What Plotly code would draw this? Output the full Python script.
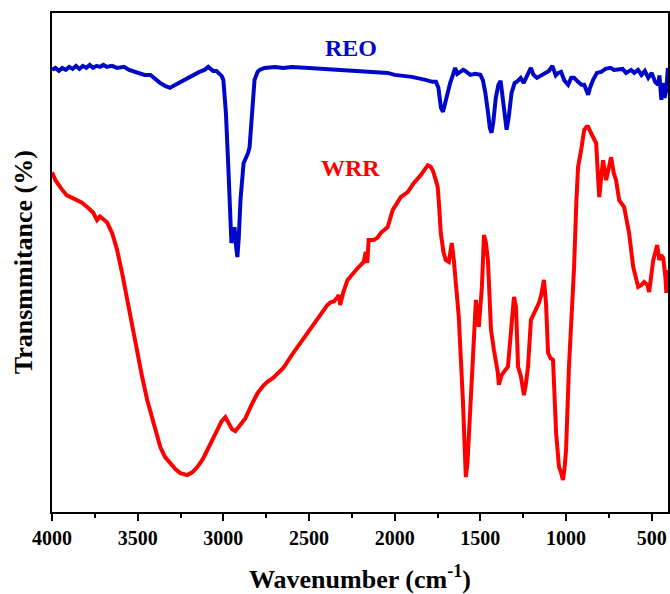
import plotly.graph_objects as go

# REO (blue) spectrum: wavenumber (cm-1) and transmittance (arb. %)
reo_wn = [4000, 3980, 3960, 3940, 3920, 3900, 3880, 3860, 3840, 3820, 3800, 3780, 3760, 3740, 3720, 3700,
          3680, 3650, 3620, 3580, 3550, 3500, 3460, 3425, 3400, 3370, 3340, 3312, 3290, 3260, 3230, 3200,
          3170, 3140, 3110, 3088, 3060, 3040, 3029, 3010, 3000, 2985, 2971, 2960, 2953, 2945, 2935, 2925,
          2918, 2910, 2900, 2882, 2865, 2855, 2847, 2835, 2825, 2818, 2800, 2788, 2760, 2700, 2650, 2600,
          2500, 2400, 2300, 2200, 2100, 2041, 2000, 1900, 1820, 1780, 1759, 1745, 1730, 1718, 1705, 1690,
          1676, 1660, 1647, 1635, 1618, 1600, 1588, 1570, 1559, 1530, 1500, 1485, 1471, 1455, 1445, 1435,
          1425, 1410, 1395, 1382, 1370, 1358, 1347, 1335, 1318, 1300, 1288, 1265, 1247, 1225, 1205, 1190,
          1170, 1150, 1120, 1100, 1080, 1060, 1045, 1029, 1010, 988, 970, 953, 930, 910, 894, 880,
          871, 860, 842, 820, 795, 770, 740, 720, 696, 670, 650, 620, 602, 580, 560, 540,
          520, 500, 480, 462, 455, 444, 435, 425, 415, 410, 406]
reo_t = [88.6, 89.0, 88.4, 89.0, 88.6, 89.2, 88.8, 89.4, 88.8, 89.4, 89.0, 89.6, 89.0, 89.4, 89.2, 89.6,
         89.2, 89.4, 89.0, 89.2, 88.6, 88.0, 87.6, 87.6, 86.8, 86.0, 85.4, 85.0, 85.4, 86.0, 86.6, 87.0,
         87.6, 88.2, 88.6, 89.2, 88.4, 88.4, 88.0, 87.4, 86.6, 80.0, 69.1, 60.0, 53.9, 55.0, 57.1, 53.0,
         51.1, 55.0, 62.5, 69.9, 71.1, 72.0, 73.1, 79.2, 84.5, 86.6, 88.2, 88.6, 89.0, 89.2, 89.0, 89.2,
         89.0, 88.8, 88.6, 88.4, 88.2, 88.0, 87.6, 87.2, 86.6, 86.2, 86.2, 85.0, 81.0, 80.2, 82.0, 84.5,
         86.0, 87.6, 89.0, 87.8, 88.2, 88.6, 88.4, 87.8, 87.6, 87.8, 87.6, 86.5, 84.0, 80.0, 77.0, 76.0,
         78.0, 83.0, 85.6, 86.4, 83.0, 78.5, 76.6, 79.0, 84.0, 86.0, 86.2, 87.0, 86.0, 87.6, 89.0, 87.6,
         87.0, 87.4, 88.0, 88.4, 89.4, 87.5, 88.0, 88.2, 86.5, 85.6, 87.0, 87.0, 86.2, 85.6, 85.6, 84.0,
         83.6, 85.0, 86.6, 88.0, 88.2, 88.8, 89.0, 88.6, 88.6, 88.8, 88.0, 88.6, 88.0, 88.6, 87.6, 88.4,
         87.0, 88.0, 86.2, 85.6, 87.5, 82.6, 86.0, 83.0, 84.6, 88.6, 89.0]

# WRR (red) spectrum
wrr_wn = [4000, 3980, 3950, 3915, 3885, 3854, 3825, 3795, 3760, 3737, 3720, 3708, 3678, 3649, 3620, 3591,
          3561, 3532, 3503, 3474, 3444, 3409, 3368, 3340, 3310, 3280, 3251, 3210, 3180, 3152, 3120, 3094,
          3065, 3035, 3010, 2988, 2970, 2950, 2930, 2910, 2871, 2835, 2801, 2770, 2743, 2708, 2680, 2649,
          2600, 2550, 2500, 2450, 2420, 2392, 2374, 2355, 2333, 2327, 2318, 2300, 2275, 2245, 2216, 2181,
          2169, 2160, 2152, 2122, 2100, 2082, 2041, 2012, 1983, 1965, 1924, 1889, 1848, 1820, 1807, 1790,
          1778, 1760, 1749, 1740, 1731, 1715, 1702, 1684, 1667, 1655, 1649, 1626, 1602, 1592, 1585, 1575,
          1567, 1555, 1544, 1526, 1509, 1491, 1479, 1468, 1456, 1438, 1421, 1398, 1392, 1375, 1362, 1339,
          1322, 1304, 1292, 1280, 1263, 1246, 1235, 1222, 1205, 1187, 1170, 1158, 1145, 1135, 1129, 1117,
          1105, 1090, 1076, 1058, 1041, 1030, 1018, 1008, 1000, 983, 959, 953, 940, 930, 912, 894,
          880, 871, 855, 842, 824, 815, 806, 795, 784, 766, 737, 722, 708, 690, 661, 632,
          608, 579, 560, 544, 525, 515, 491, 468, 456, 445, 433, 420, 415, 409]
wrr_t = [68.1, 66.5, 65.0, 63.5, 63.0, 62.5, 62.0, 61.1, 60.0, 58.5, 59.2, 58.9, 58.0, 55.9, 52.5, 47.9,
         42.5, 37.1, 31.9, 27.1, 22.4, 17.8, 13.0, 11.0, 9.8, 8.6, 7.8, 7.4, 8.0, 9.0, 10.6, 12.4,
         14.4, 16.4, 18.2, 19.0, 18.0, 16.6, 16.2, 17.2, 18.8, 21.5, 23.8, 25.2, 26.1, 26.9, 27.8, 28.9,
         31.5, 33.9, 36.2, 38.5, 40.0, 41.5, 42.0, 42.2, 43.1, 43.5, 41.5, 44.0, 46.5, 47.8, 48.9, 50.1,
         52.1, 49.9, 54.5, 54.5, 55.0, 55.9, 57.1, 60.5, 61.9, 63.1, 64.1, 65.9, 67.5, 69.0, 69.5, 69.2,
         68.5, 66.5, 65.1, 61.0, 55.9, 52.0, 50.5, 50.1, 53.9, 50.5, 48.5, 39.1, 22.4, 13.0, 7.0, 10.0,
         15.8, 25.0, 32.5, 42.5, 37.1, 45.1, 55.5, 54.0, 50.5, 36.5, 32.5, 27.9, 25.5, 27.5, 28.1, 29.1,
         35.9, 43.1, 41.1, 29.1, 27.1, 23.4, 25.5, 29.1, 38.5, 39.9, 41.0, 41.9, 43.5, 45.1, 46.5, 41.9,
         31.9, 30.8, 30.5, 15.8, 9.0, 8.0, 6.4, 9.0, 12.4, 29.1, 42.5, 49.1, 62.0, 69.1, 72.5, 76.6,
         77.2, 77.2, 76.0, 75.2, 73.9, 68.0, 63.1, 67.0, 70.5, 66.5, 71.1, 68.0, 66.5, 62.5, 61.1, 55.9,
         49.1, 45.1, 45.5, 46.1, 45.5, 44.1, 50.5, 53.5, 50.5, 51.5, 50.9, 47.0, 43.9, 48.5]

x_ticks = [4000, 3500, 3000, 2500, 2000, 1500, 1000, 500]
x_tick_text = ["4000", "3500", "3000", "2500", "2000", "1500", "1000", "500"]

FONT = "Liberation Serif"
BLUE = "#0008C8"
RED = "#FF0000"

fig = go.Figure()
fig.add_trace(go.Scatter(x=reo_wn, y=reo_t, mode="lines", name="REO",
                         line=dict(color=BLUE, width=4)))
fig.add_trace(go.Scatter(x=wrr_wn, y=wrr_t, mode="lines", name="WRR",
                         line=dict(color=RED, width=4)))

fig.update_layout(
    template="none",
    width=670, height=594,
    margin=dict(l=52, r=2, t=13, b=82),
    paper_bgcolor="white", plot_bgcolor="white",
    showlegend=False,
    font=dict(family=FONT, color="black"),
)
fig.update_xaxes(
    range=[4000, 405], tickvals=x_ticks, ticktext=x_tick_text,
    ticks="outside", ticklen=7, tickwidth=2, tickcolor="black",
    minor=dict(ticks="outside", ticklen=4, tickwidth=2, tickcolor="black", dtick=250, tick0=0),
    showline=True, linewidth=2, linecolor="black", mirror=True,
    showgrid=False, zeroline=False, automargin=False,
    tickfont=dict(family=FONT, size=20, color="black", weight="bold"),
)
fig.update_yaxes(
    range=[0, 100], showticklabels=False, ticks="",
    showline=True, linewidth=2, linecolor="black", mirror=True,
    showgrid=False, zeroline=False, automargin=False,
)
fig.add_annotation(x=2257, y=93.0, xref="x", yref="y", text="REO", showarrow=False,
                   font=dict(family=FONT, size=24, color=BLUE, weight="bold"))
fig.add_annotation(x=2257, y=68.9, xref="x", yref="y", text="WRR", showarrow=False,
                   font=dict(family=FONT, size=24, color=RED, weight="bold"))
fig.add_annotation(x=0.5, y=-0.132, xref="paper", yref="paper", text="Wavenumber (cm<sup>-1</sup>)",
                   showarrow=False, yanchor="middle",
                   font=dict(family=FONT, size=26, color="black", weight="bold"))
fig.add_annotation(x=-0.046, y=0.5, xref="paper", yref="paper", text="Transmmitance (%)",
                   showarrow=False, textangle=-90, xanchor="center",
                   font=dict(family=FONT, size=26, color="black", weight="bold"))

fig.write_html(
    "out.html",
    config={"displayModeBar": False},
    post_script="document.documentElement.style.margin='0';document.documentElement.style.overflow='hidden';"
                "document.body.style.margin='0';document.body.style.overflow='hidden';",
)
